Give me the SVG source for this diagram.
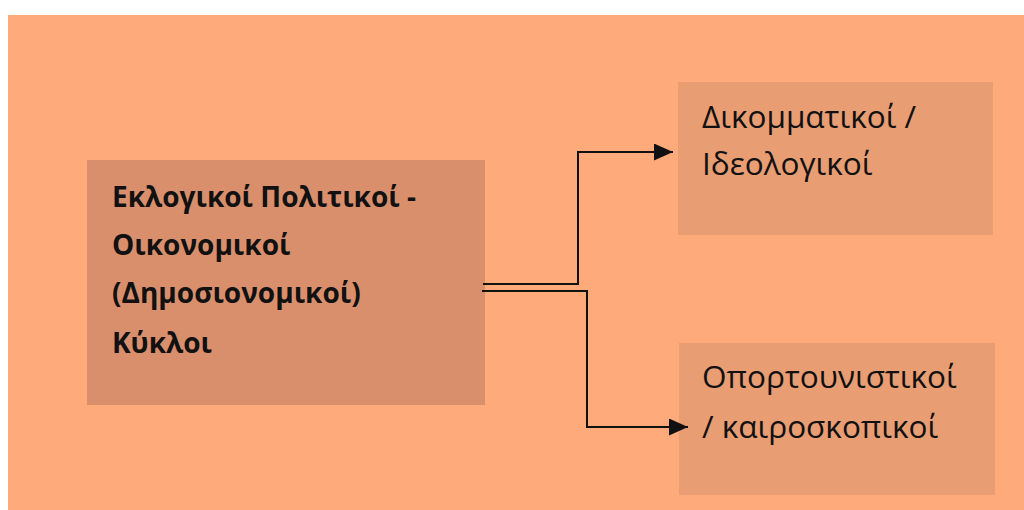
<svg xmlns="http://www.w3.org/2000/svg" width="1024" height="510" viewBox="0 0 1024 510">
<defs>
<style>
.main{fill:#DA8F6C}
.side{fill:#E89D73}
.t{font-family:"Open Sans","Liberation Sans",sans-serif;fill:#111}
.tb{font-weight:bold;font-size:28px}
.tr{font-size:31.5px}
.ln{fill:none;stroke:#111;stroke-width:2}
</style>
<marker id="ah" viewBox="0 0 10 10" refX="10" refY="5" markerWidth="19" markerHeight="17" markerUnits="userSpaceOnUse" orient="auto" preserveAspectRatio="none">
<path d="M0,0 L10,5 L0,10 Z" fill="#111"/>
</marker>
</defs>
<rect x="0" y="0" width="1024" height="510" fill="#ffffff"/>
<rect x="8" y="15" width="1016" height="495" fill="#FEAA7A"/>
<g id="node-main">
<rect class="main" x="87" y="160" width="398" height="245"/>
<text class="t tb" x="112" y="207">Εκλογικοί Πολιτικοί -</text>
<text class="t tb" x="112" y="255">Οικονομικοί</text>
<text class="t tb" x="112" y="303">(Δημοσιονομικοί)</text>
<text class="t tb" x="112" y="353">Κύκλοι</text>
</g>
<g id="node-top">
<rect class="side" x="678" y="82" width="315" height="153"/>
<text class="t tr" x="702" y="128">Δικομματικοί /</text>
<text class="t tr" x="702" y="175">Ιδεολογικοί</text>
</g>
<g id="node-bottom">
<rect class="side" x="679" y="343" width="316" height="152"/>
<text class="t tr" x="702" y="388">Οπορτουνιστικοί</text>
<text class="t tr" x="702" y="438">/ καιροσκοπικοί</text>
</g>
<g id="connectors">
<polyline class="ln" points="483,284 578,284 578,152 673,152" marker-end="url(#ah)"/>
<polyline class="ln" points="482,291 587,291 587,427 688,427" marker-end="url(#ah)"/>
</g>
</svg>
